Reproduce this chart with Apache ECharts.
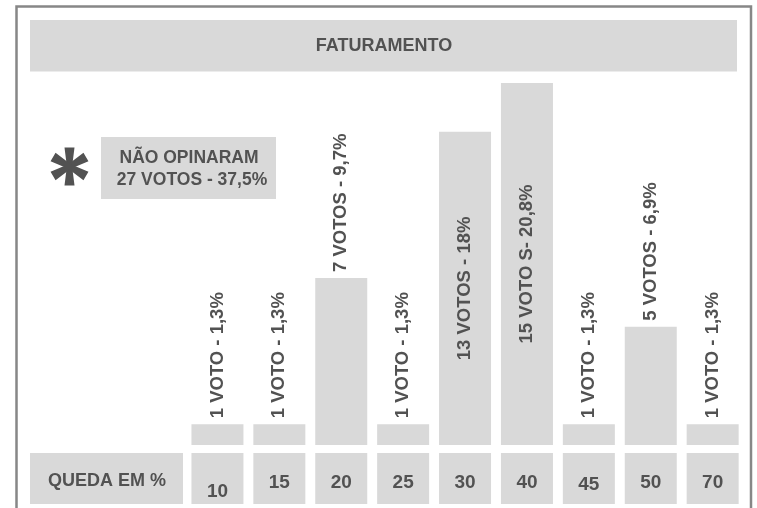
<!DOCTYPE html>
<html>
<head>
<meta charset="utf-8">
<script src="https://cdn.jsdelivr.net/npm/echarts@6/dist/echarts.min.js"></script>
<style>html,body{margin:0;padding:0;background:#fff}#c{width:757px;height:508px}</style>
</head>
<body>
<div id="c"></div>
<script>
const categories = ['10', '15', '20', '25', '30', '40', '45', '50', '70'];
const votes = [1, 1, 7, 1, 13, 15, 1, 5, 1];
const barLabels = ['1 VOTO - 1,3%', '1 VOTO - 1,3%', '7 VOTOS - 9,7%', '1 VOTO - 1,3%', '13 VOTOS - 18%', '15 VOTO S- 20,8%', '1 VOTO - 1,3%', '5 VOTOS - 6,9%', '1 VOTO - 1,3%'];
const titleText = 'FATURAMENTO';
const axisTitle = 'QUEDA EM %';
const noteLines = ['NÃO OPINARAM', '27 VOTOS - 37,5%'];

const FONT = '"Liberation Sans", Arial, sans-serif';
const TXT = '#525252';
const BOX = '#d9d9d9';

const chart = echarts.init(document.getElementById('c'), null, {renderer: 'canvas'});

const xData = categories.map(c => {
  const lh = c === '10' ? 77 : (c === '45' ? 64 : 59);
  return {value: c, textStyle: {lineHeight: lh}};
});

const seriesData = votes.map(v => {
  const inside = v >= 10;
  return {
    value: v,
    label: inside
      ? {position: 'inside', rotate: 90, align: 'center', verticalAlign: 'middle'}
      : {position: 'top', rotate: 90, align: 'left', verticalAlign: 'middle', distance: 6}
  };
});

chart.setOption({
  animation: false,
  grid: {left: 186.5, right: 13.4, top: 83, bottom: 63},
  xAxis: {
    type: 'category',
    data: xData,
    axisLine: {show: false},
    axisTick: {show: false},
    axisLabel: {
      interval: 0, margin: 8,
      backgroundColor: BOX, width: 52, height: 51, lineHeight: 59,
      align: 'center', verticalAlign: 'top',
      color: TXT, fontFamily: FONT, fontWeight: 'bold', fontSize: 19
    }
  },
  yAxis: {type: 'value', min: 0.15, max: 15, show: false, splitLine: {show: false}},
  series: [{
    type: 'bar',
    data: seriesData,
    barWidth: 52,
    itemStyle: {color: BOX},
    label: {
      show: true,
      formatter: p => barLabels[p.dataIndex],
      color: TXT, fontFamily: FONT, fontWeight: 'bold', fontSize: 18.5
    }
  }],
  graphic: [
    {type: 'rect', shape: {x: 16.5, y: 6.5, width: 734.5, height: 530}, style: {fill: 'none', stroke: '#878787', lineWidth: 2.5}, silent: true},
    {type: 'rect', shape: {x: 30, y: 20, width: 707, height: 51.5}, style: {fill: BOX}, silent: true},
    {type: 'text', x: 384, y: 46, style: {text: titleText, fill: TXT, font: 'bold 18px ' + FONT, textAlign: 'center', textVerticalAlign: 'middle'}},
    {type: 'rect', shape: {x: 30, y: 453, width: 153, height: 51}, style: {fill: BOX}, silent: true},
    {type: 'text', x: 107, y: 481, style: {text: axisTitle, fill: TXT, font: 'bold 18px ' + FONT, textAlign: 'center', textVerticalAlign: 'middle'}},
    {type: 'rect', shape: {x: 101, y: 137, width: 175, height: 62}, style: {fill: BOX}, silent: true},
    {type: 'text', x: 189, y: 158, style: {text: noteLines[0], fill: TXT, font: 'bold 17.5px ' + FONT, textAlign: 'center', textVerticalAlign: 'middle'}},
    {type: 'text', x: 192, y: 180, style: {text: noteLines[1], fill: TXT, font: 'bold 17.5px ' + FONT, textAlign: 'center', textVerticalAlign: 'middle'}},
    {type: 'group', x: 69.5, y: 166.5, children: [90, 30, 150].map(a => ({
      type: 'polygon', rotation: a * Math.PI / 180,
      shape: {points: [[-19, -5], [-3, -3], [3, -3], [19, -5], [19, 5], [3, 3], [-3, 3], [-19, 5]]},
      style: {fill: TXT}
    }))}
  ]
});
</script>
</body>
</html>
